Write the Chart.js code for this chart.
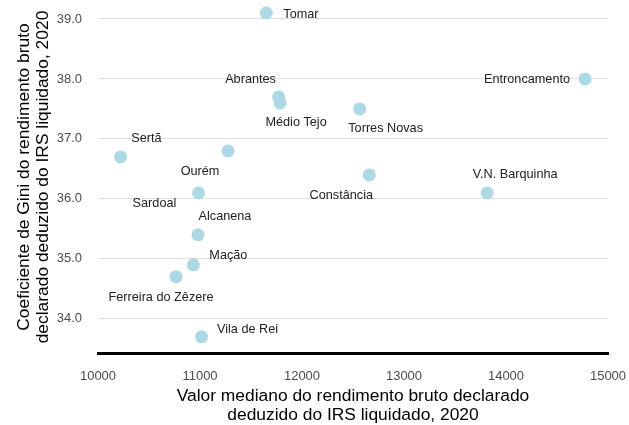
<!DOCTYPE html>
<html>
<head>
<meta charset="utf-8">
<script src="https://cdn.jsdelivr.net/npm/chart.js@4"></script>
<style>
  html, body { margin: 0; padding: 0; background: #fff; }
  #wrap { width: 629px; height: 425px; position: relative; }
</style>
</head>
<body>
<div id="wrap"><canvas id="chartGini"></canvas></div>
<script>
// Data
const municipios = ['Tomar', 'Entroncamento', 'Abrantes', 'Médio Tejo', 'Torres Novas', 'Sertã', 'Ourém',
    'Constância', 'V.N. Barquinha', 'Sardoal', 'Alcanena', 'Mação', 'Ferreira do Zêzere', 'Vila de Rei'];
const rendimento = [11650, 14775, 11770, 11785, 12565, 10220, 11275, 12660, 13815, 10985, 10980, 10935, 10765, 11015];
const gini = [39.1, 38.0, 37.7, 37.6, 37.5, 36.7, 36.8, 36.4, 36.1, 36.1, 35.4, 34.9, 34.7, 33.7];
const xTicks = [10000, 11000, 12000, 13000, 14000, 15000];
const yTicks = [34, 35, 36, 37, 38, 39];

// Label placement (pixel offsets from each point, text alignment)
const labelOffsets = {
    'Tomar': [17, 1, 'left'],
    'Entroncamento': [-15, 1, 'right'],
    'Abrantes': [-28, -17, 'center'],
    'Médio Tejo': [16, 20, 'center'],
    'Torres Novas': [26, 20, 'center'],
    'Sertã': [26, -18, 'center'],
    'Ourém': [-28, 21, 'center'],
    'Constância': [-28, 21, 'center'],
    'V.N. Barquinha': [28, -18, 'center'],
    'Sardoal': [-44, 11, 'center'],
    'Alcanena': [27, -18, 'center'],
    'Mação': [35, -9, 'center'],
    'Ferreira do Zêzere': [-15, 21, 'center'],
    'Vila de Rei': [46, -7, 'center']
};

const FONT = "'Liberation Sans', Arial, sans-serif";

const pointLabels = {
    id: 'pointLabels',
    afterDatasetsDraw(chart) {
        const ctx = chart.ctx;
        const meta = chart.getDatasetMeta(0);
        ctx.save();
        ctx.font = '12.7px ' + FONT;
        ctx.fillStyle = '#222';
        ctx.textBaseline = 'middle';
        meta.data.forEach((pt, i) => {
            const off = labelOffsets[municipios[i]];
            ctx.textAlign = off[2];
            ctx.fillText(municipios[i], pt.x + off[0], pt.y + off[1]);
        });
        ctx.restore();
    }
};

const ctxGini = document.getElementById('chartGini').getContext('2d');
new Chart(ctxGini, {
    type: 'scatter',
    data: {
        datasets: [{
            data: rendimento.map((x, i) => ({ x: x, y: gini[i] })),
            backgroundColor: '#add8e6',
            borderWidth: 0,
            pointRadius: 6.5,
            pointHoverRadius: 6.5
        }]
    },
    options: {
        responsive: true,
        maintainAspectRatio: false,
        animation: false,
        layout: { autoPadding: false, padding: { top: 1, right: 21, left: 0, bottom: 0 } },
        plugins: {
            legend: { display: false },
            tooltip: { enabled: false }
        },
        scales: {
            x: {
                type: 'linear',
                min: 10000,
                max: 15000,
                afterBuildTicks: (axis) => { axis.ticks = xTicks.map(v => ({ value: v })); },
                afterFit: (axis) => {
                    axis.height = 72;
                    axis.paddingLeft = 0;
                    axis.paddingRight = 0;
                },
                grid: { display: false, drawTicks: false },
                border: { display: true, color: '#000', width: 3 },
                ticks: {
                    color: '#4d4d4d',
                    font: { family: FONT, size: 13 },
                    padding: 16,
                    maxRotation: 0,
                    callback: (v) => String(v)
                },
                title: {
                    display: true,
                    text: ['Valor mediano do rendimento bruto declarado', 'deduzido do IRS liquidado, 2020'],
                    color: '#000',
                    font: { family: FONT, size: 17.4, lineHeight: 1.12 },
                    padding: { top: 6, bottom: 0 }
                }
            },
            y: {
                type: 'linear',
                min: 33.43,
                max: 39.3,
                afterBuildTicks: (axis) => { axis.ticks = yTicks.map(v => ({ value: v })); },
                afterFit: (axis) => {
                    axis.width = 98;
                    axis.paddingTop = 0;
                    axis.paddingBottom = 0;
                },
                grid: { color: '#e0e0e0', lineWidth: 1, drawTicks: false },
                border: { display: false },
                ticks: {
                    color: '#4d4d4d',
                    font: { family: FONT, size: 13 },
                    padding: 16,
                    callback: (v) => v.toFixed(1)
                },
                title: {
                    display: true,
                    text: ['Coeficiente de Gini do rendimento bruto', 'declarado deduzido do IRS liquidado, 2020'],
                    color: '#000',
                    font: { family: FONT, size: 17.4, lineHeight: 1.12 },
                    padding: { top: 14, bottom: 0 }
                }
            }
        }
    },
    plugins: [pointLabels]
});
</script>
</body>
</html>
